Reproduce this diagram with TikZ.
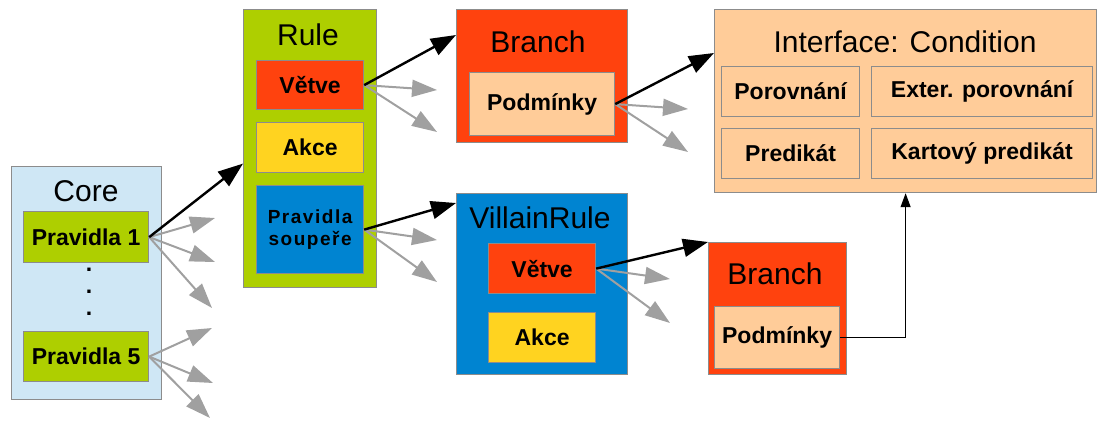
\documentclass[tikz,border=0pt]{standalone}
\usepackage{fontspec}
\setmainfont{Liberation Sans}
\newfontfamily\spacedbf[LetterSpace=8]{Liberation Sans}
\usetikzlibrary{arrows.meta}
\definecolor{corebg}{HTML}{CFE7F5}
\definecolor{rulegreen}{HTML}{AECF00}
\definecolor{branchred}{HTML}{FF420E}
\definecolor{akceyellow}{HTML}{FFD320}
\definecolor{villainblue}{HTML}{0084D1}
\definecolor{peach}{HTML}{FFCC99}
\definecolor{boxgray}{HTML}{8C8C8C}
\definecolor{arrowgray}{HTML}{A0A0A0}
\tikzset{
	box/.style={draw=boxgray, line width=1.2pt, anchor=north west, inner sep=0pt},
	item/.style={box, font=\bfseries\fontsize{23}{23}\selectfont},
	title/.style={font=\fontsize{30}{30}\selectfont},
	blackarrow/.style={-{Triangle[length=25pt,width=18pt]}, line width=2.4pt},
	grayarrow/.style={-{Triangle[length=25pt,width=17pt]}, line width=2pt, arrowgray},
	thinarrow/.style={-{Triangle[length=14pt,width=10pt]}, line width=1.2pt},
}
\begin{document}
\begin{tikzpicture}[x=1pt,y=-1pt]
	\useasboundingbox (0,0) rectangle (1103,421);
	% Core
	\node[box, fill=corebg, minimum width=150pt, minimum height=233pt] (core) at (11,166) {};
	\node[title] (coreT) at (86,191) {Core};
	\node[item, fill=rulegreen, minimum width=125pt, minimum height=51pt] (p1) at (23,211) {Pravidla 1};
	\node[font=\bfseries\fontsize{23}{22}\selectfont, align=center] (dots) at (89,292) {.\\.\\.};
	\node[item, fill=rulegreen, minimum width=125pt, minimum height=50pt] (p5) at (23,331) {Pravidla 5};
	% Rule
	\node[box, fill=rulegreen, minimum width=133pt, minimum height=278pt] (rule) at (243,9) {};
	\node[title] (ruleT) at (308,35) {Rule};
	\node[item, fill=branchred, minimum width=107pt, minimum height=49pt] (vetve) at (256,60) {Větve};
	\node[item, fill=akceyellow, minimum width=107pt, minimum height=50pt] (akce) at (256,122) {Akce};
	\node[box, fill=villainblue, minimum width=107pt, minimum height=88pt, align=center,
		font=\spacedbf\bfseries\fontsize{19}{22}\selectfont] (souper) at (256,185) {Pravidla\\soupeře};
	% Branch
	\node[box, fill=branchred, minimum width=171pt, minimum height=133pt] (branch) at (456,9) {};
	\node[title] (branchT) at (538,42) {Branch};
	\node[item, fill=peach, minimum width=145pt, minimum height=63pt] (podm) at (469,72) {Podmínky};
	% Interface
	\node[box, fill=peach, minimum width=382pt, minimum height=183pt] (iface) at (714,9) {};
	\node[title] (ifaceT) at (905,42) {Interface: Condition};
	\node[item, fill=peach, minimum width=138pt, minimum height=50pt] (porov) at (721,66) {Porovnání};
	\node[item, fill=peach, minimum width=221pt, minimum height=50pt] (exter) at (871,66) {Exter. porovnání};
	\node[item, fill=peach, minimum width=138pt, minimum height=50pt] (predik) at (721,128) {Predikát};
	\node[item, fill=peach, minimum width=221pt, minimum height=50pt] (karto) at (871,128) {Kartový predikát};
	% VillainRule
	\node[box, fill=villainblue, minimum width=171pt, minimum height=181pt] (villain) at (456,193) {};
	\node[title] (villainT) at (540,218) {VillainRule};
	\node[item, fill=branchred, minimum width=107pt, minimum height=50pt] (vetvetwo) at (488,243) {Větve};
	\node[item, fill=akceyellow, minimum width=107pt, minimum height=50pt] (akcetwo) at (488,312) {Akce};
	% Branch of VillainRule
	\node[box, fill=branchred, minimum width=138pt, minimum height=132pt] (branchtwo) at (708,242) {};
	\node[title] (branchtwoT) at (775,274) {Branch};
	\node[item, fill=peach, minimum width=125pt, minimum height=62pt] (podmtwo) at (714,306) {Podmínky};

	\foreach \src/\tip/\tx/\ty in {p1/g1/215/218, p1/g2/215/262, p1/g3/212/308,
		p5/g4/212/328, p5/g5/213/383, p5/g6/210/418,
		vetve/g7/437/90, vetve/g8/437/132, souper/g9/437/240, souper/g10/437/282,
		podm/g11/688/109, podm/g12/688/152, vetvetwo/g13/670/279, vetvetwo/g14/670/323} {
		\coordinate (\tip) at (\tx,\ty);
		\draw[grayarrow] (\src.east) -- (\tip);
	}
	\draw[blackarrow] (p1.east) -- ([yshift=-15pt]rule.west);
	\draw[blackarrow] (vetve.east) -- ([yshift=-26pt]branch.north west);
	\draw[blackarrow] (souper.east) -- ([yshift=-10pt]villain.north west);
	\draw[blackarrow] (podm.east) -- ([yshift=-44pt]iface.north west);
	\draw[blackarrow] (vetvetwo.east) -- (branchtwo.north west);
	\draw[thinarrow] (podmtwo.east) -| (iface.south);
\end{tikzpicture}
\end{document}
